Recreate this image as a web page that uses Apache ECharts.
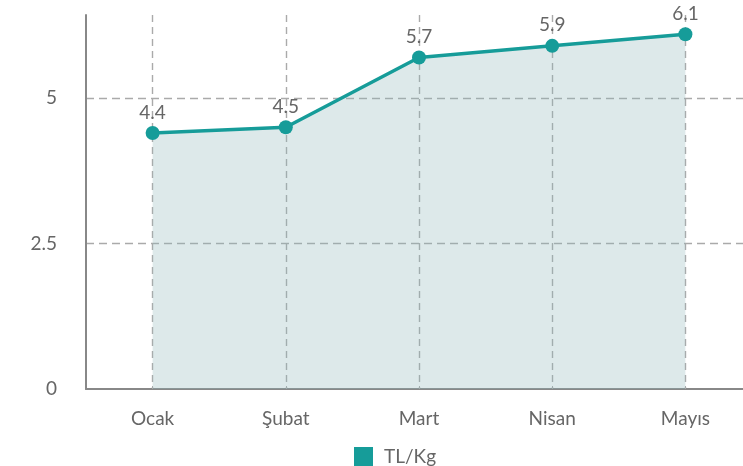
<!DOCTYPE html>
<html><head><meta charset="utf-8">
<script src="https://cdn.jsdelivr.net/npm/echarts@6/dist/echarts.min.js"></script>
<style>html,body{margin:0;padding:0;background:#fff}#c{width:743px;height:466px}</style>
</head><body><div id="c"></div>
<script>
const categories = ['Ocak', 'Şubat', 'Mart', 'Nisan', 'Mayıs'];
const values = [4.4, 4.5, 5.7, 5.9, 6.1];
const seriesName = 'TL/Kg';
const yTicks = [0, 2.5, 5];

const chart = echarts.init(document.getElementById('c'));
chart.setOption({
  animation: false,
  textStyle: { fontFamily: 'Lato' },
  grid: { left: 86, top: 15, bottom: 77, width: 666, containLabel: false, outerBoundsMode: 'none' },
  legend: {
    data: [{ name: seriesName, icon: 'rect' }],
    left: 349, top: 442, itemWidth: 19, itemHeight: 19, itemGap: 10,
    textStyle: { fontFamily: 'Lato', fontSize: 19, color: '#666', padding: [0, 0, 0, 6] }
  },
  xAxis: {
    type: 'category', data: categories, boundaryGap: true,
    axisLine: { lineStyle: { color: '#888', width: 2 } },
    axisTick: { show: true, alignWithLabel: true, inside: true, length: 3, lineStyle: { color: '#aaa' } },
    axisLabel: { margin: 20, fontSize: 19, color: '#666', fontFamily: 'Lato' },
    splitLine: { show: true, alignWithLabel: true, lineStyle: { color: '#aaa', type: [7, 5], width: 1.4 } }
  },
  yAxis: {
    type: 'value', min: 0, max: 6.43, interval: 2.5,
    axisLine: { show: true, lineStyle: { color: '#888', width: 2 } },
    axisTick: { show: false },
    axisLabel: { showMaxLabel: false, margin: 29, fontSize: 19, color: '#666', fontFamily: 'Lato',
      formatter: v => yTicks.includes(v) ? String(v) : '' },
    splitLine: { show: true, showMinLine: false, showMaxLine: false, lineStyle: { color: '#aaa', type: [8, 5], width: 1.4 } }
  },
  series: [{
    name: seriesName, type: 'line', data: values,
    symbol: 'circle', symbolSize: 14,
    itemStyle: { color: '#169c99' },
    lineStyle: { color: '#169c99', width: 3.5 },
    areaStyle: { color: 'rgba(142,182,185,0.3)', opacity: 1 },
    label: { show: true, position: 'top', distance: 4, fontSize: 19, color: '#666', fontFamily: 'Lato' },
    z: 3
  }]
});
</script></body></html>
